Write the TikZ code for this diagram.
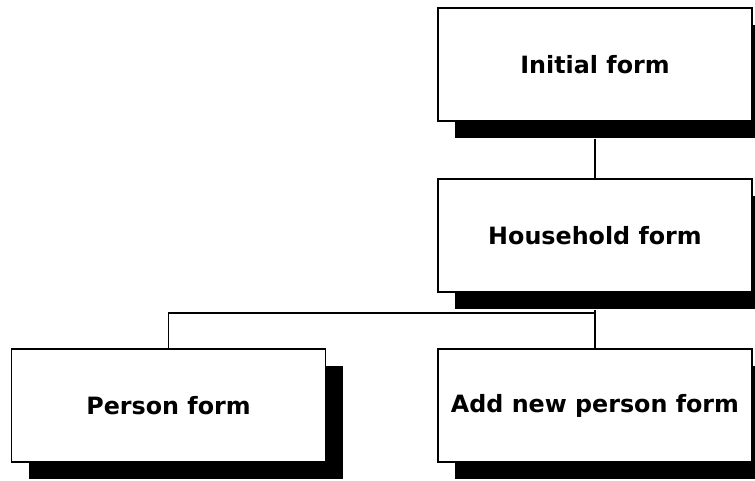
\documentclass[tikz,border=0pt]{standalone}
\usepackage{fontspec}
\setmainfont{DejaVu Sans}
\usetikzlibrary{shadows}
\begin{document}
\begin{tikzpicture}[x=1pt,y=-1pt,
  formbox/.style={draw=black, line width=1.4pt, fill=white,
    minimum width=314pt, minimum height=113pt, inner sep=0pt,
    font=\fontsize{23.8}{28}\selectfont\bfseries,
    drop shadow={shadow xshift=17pt, shadow yshift=-17pt, fill=black, opacity=1}},
  link/.style={line width=1.4pt, draw=black}]
  \clip (0,0) rectangle (755,480);
  \useasboundingbox (0,0) rectangle (755,480);
  % branch points of the tree
  \coordinate (fork) at (595,313);
  \coordinate (leftfork) at (168.5,313);
  % form boxes with solid drop shadows
  \node[formbox] (initial) at (595,64.5) {Initial form};
  \node[formbox] (household) at (595,235.5) {Household form};
  \node[formbox] (person) at (168.5,405.5) {Person form};
  \node[formbox] (addnew) at (595,405.5) {Add new person form};
  % connectors, starting below each shadow
  \draw[link] (initial.south) ++(0,17) -- (household.north);
  \draw[link] (household.south) ++(0,17) -- (fork) -- (addnew.north);
  \draw[link] (fork) -- (leftfork) -- (person.north);
\end{tikzpicture}
\end{document}
